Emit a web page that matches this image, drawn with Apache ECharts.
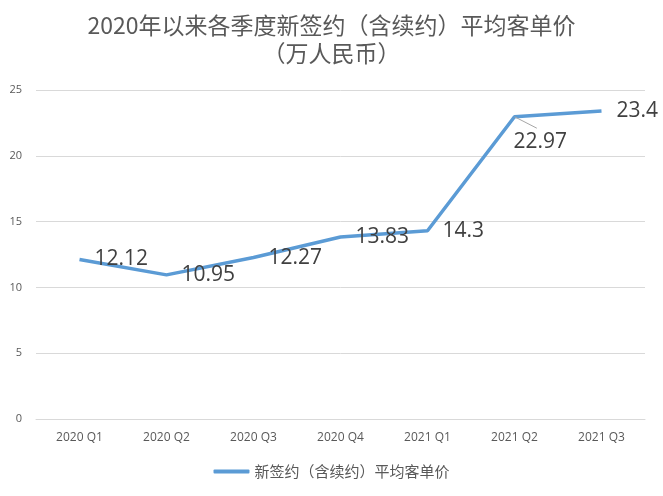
<!DOCTYPE html>
<html><head><meta charset="utf-8">
<script src="https://cdn.jsdelivr.net/npm/echarts@6/dist/echarts.min.js"></script>
<style>html,body{margin:0;padding:0;background:#fff}#c{width:663px;height:496px}</style>
</head><body><div id="c"></div>
<script>
var categories = ['2020 Q1','2020 Q2','2020 Q3','2020 Q4','2021 Q1','2021 Q2','2021 Q3'];
var values = [12.12, 10.95, 12.27, 13.83, 14.3, 22.97, 23.4];
var yTicks = [0, 5, 10, 15, 20, 25];
var seriesName = '新签约（含续约）平均客单价';
var seriesData = values.map(function (v, i) {
  return i === 5 ? {
    value: v,
    label: {padding: [6, 8, 0, 15], backgroundColor: 'rgba(255,255,255,0)'},
    labelLine: {show: true}
  } : {value: v};
});
var chart = echarts.init(document.getElementById('c'));
chart.setOption({
  backgroundColor: '#fff',
  animation: false,
  title: {
    text: '2020年以来各季度新签约（含续约）平均客单价\n（万人民币）',
    left: 'center', top: 6,
    textStyle: {fontFamily: 'Noto Sans CJK SC', fontSize: 23, fontWeight: 'normal', color: '#595959', lineHeight: 28}
  },
  legend: {
    bottom: 12, left: 'center',
    itemWidth: 36, itemHeight: 4,
    icon: 'roundRect',
    textStyle: {fontFamily: 'Noto Sans CJK SC', fontSize: 15, color: '#595959'},
    data: [seriesName]
  },
  grid: {left: 36, right: 18, top: 90, bottom: 77, containLabel: false},
  xAxis: {
    type: 'category', data: categories, boundaryGap: true,
    axisLine: {show: true, lineStyle: {color: '#d9d9d9'}},
    axisTick: {show: false},
    axisLabel: {fontFamily: 'Open Sans', fontSize: 12, color: '#595959', margin: 13}
  },
  yAxis: {
    type: 'value', min: yTicks[0], max: yTicks[yTicks.length-1], interval: 5,
    axisLine: {show: false}, axisTick: {show: false},
    splitLine: {lineStyle: {color: '#d9d9d9'}},
    axisLabel: {fontFamily: 'Open Sans', fontSize: 11, color: '#595959', margin: 14}
  },
  series: [{
    name: seriesName, type: 'line', data: seriesData,
    showSymbol: true, symbol: 'circle', symbolSize: 0.1,
    lineStyle: {color: '#5b9bd5', width: 3.5},
    itemStyle: {color: '#5b9bd5'},
    label: {
      show: true, position: 'right', distance: 15,
      fontFamily: 'Open Sans', fontSize: 21, color: '#404040'
    },
    labelLayout: function (p) {
      if (p.dataIndex === 5) return {dx: -31, dy: 25};
      return {};
    },
    labelLine: {show: false, length2: 0, lineStyle: {color: '#a6a6a6', width: 1}}
  }]
});
</script></body></html>
